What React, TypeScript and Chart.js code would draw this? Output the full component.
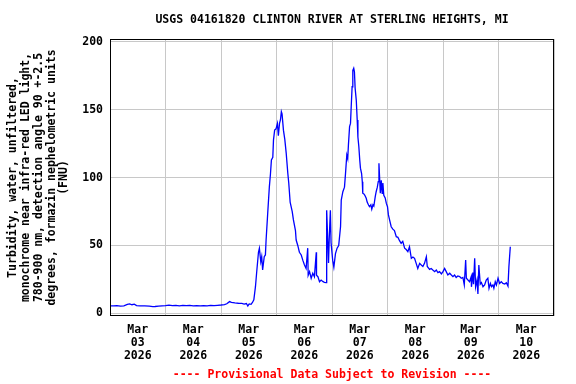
import React, { useEffect, useRef } from "react";
import { Chart, registerables } from "chart.js";

Chart.register(...registerables);

const TITLE = "USGS 04161820 CLINTON RIVER AT STERLING HEIGHTS, MI";
const FOOTER = "---- Provisional Data Subject to Revision ----";
const Y_TITLE = [
  "Turbidity, water, unfiltered,",
  "monochrome near infra-red LED light,",
  "780-900 nm, detection angle 90 +-2.5",
  "degrees, formazin nephelometric units",
  "(FNU)",
];
const yTicks = [0, 50, 100, 150, 200];
// hours since Mar 03 2026 00:00
const gridHours = [0, 24, 48, 72, 96, 120, 144, 168, 192];
const dayTickHours = [12, 36, 60, 84, 108, 132, 156, 180];
const dayLabels = [
  ["Mar", "03", "2026"],
  ["Mar", "04", "2026"],
  ["Mar", "05", "2026"],
  ["Mar", "06", "2026"],
  ["Mar", "07", "2026"],
  ["Mar", "08", "2026"],
  ["Mar", "09", "2026"],
  ["Mar", "10", "2026"],
];

const hours = [
  0, 1.5, 3, 4.5, 6, 7.5, 8.5, 9.5, 10.5, 11.5, 13, 15, 17, 18.5, 19.5, 21, 22.5, 24, 25.5, 27,
  28.5, 30, 31.5, 33, 34.5, 36, 37.5, 39, 40.5, 42, 43.5, 45, 46.5, 48, 49.5, 50.5, 51.7, 52.5, 54, 55.5,
  57, 58, 59, 59.6, 60.2, 61, 61.6, 62.2, 62.9, 63.4, 64.2, 64.6, 65.2, 65.6, 66.0, 66.7, 67.2, 67.5, 68.2, 68.9,
  69.4, 69.8, 70.4, 70.7, 71.2, 71.8, 72.4, 72.8, 73.3, 73.7, 74.1, 74.4, 75.0, 75.6, 76.2, 76.9, 77.3, 77.9, 78.8, 79.3,
  80.2, 80.5, 81.2, 81.9, 82.7, 83.4, 84.1, 84.8, 85.5, 85.7, 86.3, 87.0, 87.7, 88.4, 89.2, 89.3, 89.9, 90.6, 91.3, 92.0,
  92.7, 93.5, 93.7, 94.2, 94.5, 94.8, 95.3, 95.6, 96.3, 96.8, 97.5, 98.2, 98.9, 99.7, 100.0, 100.7, 101.4, 101.8, 102.4, 102.8,
  103.1, 103.6, 104.0, 104.3, 104.7, 105.0, 105.4, 105.7, 106.0, 106.5, 106.9, 107.2, 107.6, 108.0, 108.3, 108.8, 109.1, 109.3, 109.8, 110.2,
  110.8, 111.2, 111.8, 112.2, 112.8, 113.2, 113.7, 114.1, 114.7, 115.1, 115.6, 116.0, 116.3, 116.6, 116.9, 117.3, 117.7, 118.0, 118.4, 119.0,
  119.5, 120.0, 120.4, 120.9, 121.6, 122.3, 123.0, 123.8, 124.5, 125.2, 125.9, 126.6, 127.4, 128.1, 128.8, 129.5, 130.3, 131.0, 131.7, 132.4,
  133.1, 133.9, 134.6, 135.3, 136.0, 136.8, 137.2, 138.2, 138.9, 139.6, 140.4, 141.1, 141.8, 142.5, 143.3, 144.0, 144.7, 145.4, 146.1, 146.9,
  147.6, 148.3, 149.0, 149.7, 150.4, 151.2, 151.9, 152.6, 153.2, 153.8, 154.1, 154.8, 155.5, 156.2, 156.3, 156.9, 157.2, 157.7, 158.1, 158.7,
  159.1, 159.5, 160.1, 160.6, 161.3, 162.0, 162.7, 163.4, 163.9, 164.5, 165.0, 165.6, 166.0, 166.6, 167.1, 167.8, 168.5, 169.2, 169.9, 170.7,
  171.4, 172.1, 172.5, 173.1,
];

const fnu = [
  5.5, 5.4, 5.6, 5.3, 5.5, 6.6, 6.9, 6.3, 6.7, 5.7, 5.5, 5.4, 5.3, 4.9, 5.0, 5.3, 5.5, 5.6, 6.0, 5.6,
  5.9, 5.5, 5.8, 5.6, 5.9, 5.5, 5.6, 5.5, 5.7, 5.5, 5.8, 5.6, 5.9, 6.1, 6.4, 7.0, 8.6, 8.0, 7.6, 7.4,
  7.3, 6.8, 7.2, 5.4, 6.9, 6.6, 8, 10, 19.6, 29.7, 45, 48, 38, 41.7, 32, 41.7, 43, 54, 73.7, 93,
  103, 113, 115, 127.8, 135, 136, 140, 131, 140, 142.5, 148.6, 147, 135, 128, 118, 103, 96, 82, 75, 69,
  61, 54, 50, 45, 43, 39, 35.6, 33, 48, 28, 30.7, 25.8, 29.5, 27, 45, 28, 27, 23.3, 24.5, 23.5,
  22.8, 22.6, 76, 51.6, 37, 55, 76, 52, 39, 34, 44, 48, 50, 64, 83.5, 89.6, 93, 102, 116.7, 114,
  124, 137.6, 140, 152, 167, 179, 180.6, 178, 166, 157, 142.5, 130, 123, 113, 107, 103, 97, 88.5, 88, 87,
  84.8, 82, 79.8, 78.6, 80, 76.7, 80, 79, 86, 89.6, 93, 97, 110.6, 99.5, 88.6, 98, 88.5, 96, 87, 85,
  81, 78.6, 72.5, 68.8, 63.8, 62, 61, 56.5, 56, 53.5, 51.6, 53, 48, 47, 45.4, 49, 40.5, 41.5, 40.5, 36.8,
  33, 36.8, 35.6, 34.5, 36.8, 41.7, 34.5, 32.4, 33, 31.9, 30.7, 31.9, 30, 30.7, 29, 30.7, 33, 30.7, 28.2, 29.5,
  28.2, 27, 28.2, 26.4, 27.5, 27, 25.8, 26.4, 20.9, 39.3, 25.8, 24.5, 23.3, 27, 19.5, 30, 21.5, 40.5, 19.6, 24.5,
  14.2, 35.6, 21.5, 22.7, 19.6, 20.9, 24.5, 25.8, 18.4, 22, 19.6, 20.9, 18.4, 23.3, 20.9, 25.8, 22, 23.3, 22, 21.5,
  22.5, 20, 34.4, 49,
];

const FONT_FAMILY = '"DejaVu Sans Mono", monospace';
const FONT_SIZE = 11.5;

const framePlugin = {
  id: "frameAndText",
  afterDraw(chart: any) {
    const { ctx, chartArea } = chart;
    const { left, right, top, bottom } = chartArea;
    ctx.save();
    ctx.strokeStyle = "#000000";
    ctx.lineWidth = 1;
    ctx.strokeRect(left + 0.5, top + 0.5, right - left - 1, bottom - top - 1);
    ctx.font = `bold ${FONT_SIZE}px ${FONT_FAMILY}`;
    ctx.textAlign = "center";
    ctx.textBaseline = "middle";
    const cx = (left + right) / 2;
    ctx.fillStyle = "#000000";
    ctx.fillText(TITLE, cx, 20);
    ctx.fillStyle = "#ff0000";
    ctx.fillText(FOOTER, cx, 375);
    ctx.restore();
  },
};

export default function App() {
  const canvasRef = useRef<HTMLCanvasElement | null>(null);

  useEffect(() => {
    if (!canvasRef.current) return;
    const font = { family: FONT_FAMILY, size: FONT_SIZE, weight: "bold" as const, lineHeight: 1.12 };
    const chart = new Chart(canvasRef.current, {
      type: "line",
      data: {
        datasets: [
          {
            data: hours.map((h, i) => ({ x: h, y: fnu[i] })),
            borderColor: "#0000ff",
            borderWidth: 1.3,
            pointRadius: 0,
            fill: false,
            tension: 0,
          },
        ],
      },
      options: {
        responsive: false,
        animation: false,
        events: [],
        layout: { padding: { left: 0, right: 22, top: 39, bottom: 0 } },
        plugins: { legend: { display: false }, tooltip: { enabled: false }, title: { display: false } },
        scales: {
          x: {
            type: "linear",
            min: 0,
            max: 192,
            afterBuildTicks: (scale: any) => {
              const vals = [...gridHours, ...dayTickHours].sort((a, b) => a - b);
              scale.ticks = vals.map((v) => ({ value: v }));
            },
            afterFit: (scale: any) => {
              scale.height = 68;
            },
            border: { display: false },
            grid: {
              drawTicks: false,
              lineWidth: 1,
              color: (ctx: any) =>
                ctx.tick && gridHours.includes(ctx.tick.value) ? "#c8c8c8" : "rgba(0,0,0,0)",
            },
            ticks: {
              autoSkip: false,
              maxRotation: 0,
              minRotation: 0,
              padding: 8,
              color: "#000000",
              font,
              callback: (value: any) => {
                const idx = dayTickHours.indexOf(Number(value));
                return idx >= 0 ? dayLabels[idx] : "";
              },
            },
          },
          y: {
            type: "linear",
            min: -2,
            max: 202.2,
            afterBuildTicks: (scale: any) => {
              scale.ticks = yTicks.map((v) => ({ value: v }));
            },
            afterFit: (scale: any) => {
              scale.width = 110;
            },
            border: { display: false },
            grid: { drawTicks: false, color: "#c8c8c8", lineWidth: 1 },
            ticks: {
              padding: 7,
              color: "#000000",
              font,
              callback: (value: any) => String(value),
            },
            title: {
              display: true,
              text: Y_TITLE,
              color: "#000000",
              font,
              padding: { top: 6.5, bottom: 0 },
            },
          },
        },
      },
      plugins: [framePlugin],
    });
    return () => chart.destroy();
  }, []);

  return (
    <div style={{ position: "fixed", left: 0, top: 0, width: 576, height: 384, background: "#ffffff" }}>
      <canvas ref={canvasRef} width={576} height={384} style={{ width: 576, height: 384, display: "block" }} />
    </div>
  );
}
